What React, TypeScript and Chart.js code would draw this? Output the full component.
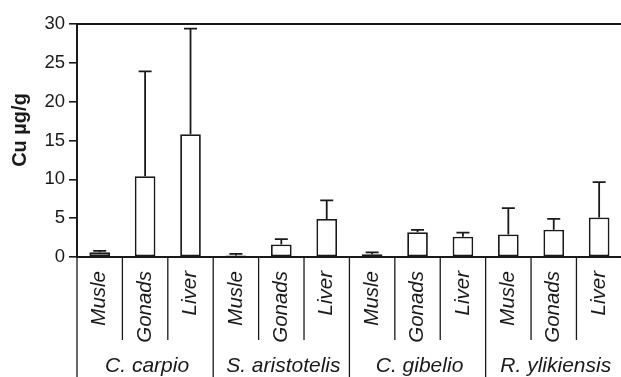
import React, { useEffect, useRef } from 'react';
import { Chart, registerables } from 'chart.js';
Chart.register(...registerables);

const tissues = ['Musle', 'Gonads', 'Liver'];
const species = ['C. carpio', 'S. aristotelis', 'C. gibelio', 'R. ylikiensis'];
// mean Cu µg/g per tissue, species by species
const means = [0.6, 10.4, 15.8, 0.2, 1.6, 4.9, 0.35, 3.2, 2.6, 2.9, 3.5, 5.1];
// upper error (SD)
const errors = [0.2, 13.5, 13.6, 0.2, 0.7, 2.4, 0.25, 0.3, 0.55, 3.4, 1.4, 4.55];
const yMax = 30;
const yStep = 5;
const yTitle = 'Cu µg/g';

const FONT = '"Liberation Sans", Arial, Helvetica, sans-serif';
const INK = '#1a1a1a';

export default function App() {
  const ref = useRef<HTMLCanvasElement>(null);
  useEffect(() => {
    if (!ref.current) return;
    const labels = species.flatMap(() => tissues);
    const deco = {
      id: 'deco',
      afterDatasetsDraw(chart: any) {
        const { ctx, scales } = chart;
        const x = scales.x, y = scales.y;
        ctx.save();
        ctx.strokeStyle = INK;
        ctx.lineWidth = 1.8;
        means.forEach((m, i) => {
          const px = x.getPixelForValue(i);
          const y0 = y.getPixelForValue(m);
          const y1 = y.getPixelForValue(m + errors[i]);
          ctx.beginPath();
          ctx.moveTo(px, y0);
          ctx.lineTo(px, y1);
          ctx.moveTo(px - 6.5, y1);
          ctx.lineTo(px + 6.5, y1);
          ctx.stroke();
        });
        ctx.restore();
      },
      afterDraw(chart: any) {
        const { ctx, chartArea, scales } = chart;
        const x = scales.x;
        const H = chart.height;
        ctx.save();
        ctx.strokeStyle = INK;
        // top frame line
        ctx.lineWidth = 1.8;
        ctx.beginPath();
        ctx.moveTo(chartArea.left, chartArea.top);
        ctx.lineTo(chartArea.right, chartArea.top);
        ctx.stroke();
        // separators
        ctx.lineWidth = 1.3;
        ctx.beginPath();
        ctx.moveTo(chartArea.left, chartArea.bottom);
        ctx.lineTo(chartArea.left, H);
        for (let i = 0; i < labels.length - 1; i++) {
          const sx = (x.getPixelForValue(i) + x.getPixelForValue(i + 1)) / 2;
          const long = (i + 1) % tissues.length === 0;
          ctx.moveTo(sx, chartArea.bottom);
          ctx.lineTo(sx, long ? H : H - 37);
        }
        ctx.stroke();
        // group labels
        ctx.fillStyle = INK;
        ctx.font = `italic 21px ${FONT}`;
        ctx.textAlign = 'center';
        ctx.textBaseline = 'alphabetic';
        species.forEach((s, g) => {
          const cx = x.getPixelForValue(g * tissues.length + 1);
          ctx.fillText(s, cx + 2, H - 5);
        });
        // y axis title
        ctx.font = `bold 20px ${FONT}`;
        ctx.textBaseline = 'middle';
        ctx.translate(20, 130);
        ctx.rotate(-Math.PI / 2);
        ctx.fillText(yTitle, 0, 0);
        ctx.restore();
      },
    };
    const chart = new Chart(ref.current, {
      type: 'bar',
      data: {
        labels,
        datasets: [
          {
            data: means,
            backgroundColor: '#ffffff',
            borderColor: INK,
            borderWidth: 1.8,
            borderSkipped: false,
            barPercentage: 0.455,
            categoryPercentage: 1,
          },
        ],
      },
      options: {
        responsive: false,
        animation: false,
        layout: { padding: { top: 24, right: 6, bottom: 0, left: 0 } },
        plugins: { legend: { display: false }, tooltip: { enabled: false } },
        scales: {
          x: {
            grid: { display: false },
            border: { display: true, color: INK, width: 2 },
            ticks: {
              minRotation: 90,
              maxRotation: 90,
              autoSkip: false,
              padding: 6,
              color: INK,
              font: { family: FONT, size: 20.5, style: 'italic' },
            },
            afterFit(scale: any) {
              scale.height = 120;
            },
          },
          y: {
            min: 0,
            max: yMax,
            ticks: {
              stepSize: yStep,
              padding: 4,
              color: INK,
              font: { family: FONT, size: 18.5 },
            },
            grid: {
              drawOnChartArea: false,
              drawTicks: true,
              tickLength: 8,
              color: INK,
              lineWidth: 1.6,
            },
            border: { display: true, color: INK, width: 2 },
            afterFit(scale: any) {
              scale.width = 77;
            },
          },
        },
      },
      plugins: [deco],
    });
    return () => chart.destroy();
  }, []);
  return (
    <div style={{ position: 'absolute', left: 0, top: 0, width: 621, height: 377, overflow: 'hidden', background: '#fff' }}>
      <canvas ref={ref} width={630} height={377} style={{ display: 'block' }} />
    </div>
  );
}
